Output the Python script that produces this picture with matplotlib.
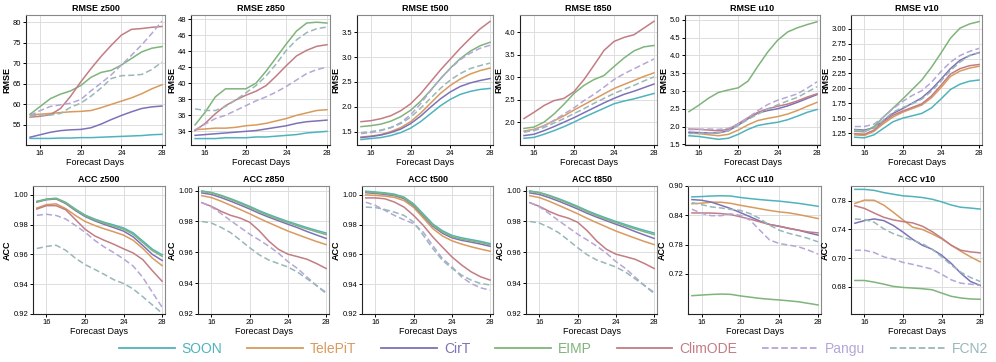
import numpy as np
import matplotlib
matplotlib.use("Agg")
import matplotlib.pyplot as plt
from matplotlib.lines import Line2D

days = np.arange(15, 29)

models = ["SOON", "TelePiT", "CirT", "EIMP", "ClimODE", "Pangu", "FCN2"]
colors = ["#4fb3bd", "#d99a5e", "#7d72b8", "#7fb47b", "#c27d84", "#b5a6d6", "#98b7b9"]
styles = ["-", "-", "-", "-", "-", "--", "--"]

# ---- RMSE ----
rmse_z500 = {
    "SOON": [51.7, 51.7, 51.7, 51.8, 51.8, 51.9, 51.9, 52.0, 52.1, 52.2, 52.3, 52.4, 52.6, 52.7],
    "TelePiT": [57.5, 57.6, 57.8, 58.0, 58.2, 58.3, 58.5, 59.2, 60.0, 60.8, 61.6, 62.6, 63.8, 64.8],
    "CirT": [52.0, 52.6, 53.2, 53.6, 53.8, 53.9, 54.3, 55.2, 56.3, 57.3, 58.2, 59.0, 59.4, 59.6],
    "EIMP": [57.6, 59.5, 61.4, 62.5, 63.3, 64.6, 66.6, 67.8, 68.3, 69.6, 71.2, 72.8, 73.7, 74.1],
    "ClimODE": [56.9, 57.1, 57.5, 59.0, 62.0, 65.5, 68.7, 71.7, 74.4, 76.9, 78.3, 78.5, 78.8, 79.0],
    "Pangu": [57.3, 58.5, 59.5, 59.9, 60.3, 61.2, 63.3, 65.2, 67.2, 69.6, 72.0, 74.5, 77.3, 80.3],
    "FCN2": [57.2, 57.3, 57.4, 57.8, 59.3, 60.3, 62.0, 64.0, 66.3, 67.0, 67.1, 67.3, 68.5, 70.3],
}
rmse_z850 = {
    "SOON": [33.1, 33.1, 33.1, 33.2, 33.2, 33.2, 33.3, 33.3, 33.4, 33.5, 33.6, 33.8, 33.9, 34.0],
    "TelePiT": [34.2, 34.3, 34.4, 34.4, 34.5, 34.7, 34.8, 35.0, 35.3, 35.6, 36.0, 36.3, 36.6, 36.7],
    "CirT": [33.5, 33.6, 33.7, 33.8, 33.9, 34.0, 34.1, 34.3, 34.5, 34.7, 35.0, 35.2, 35.3, 35.4],
    "EIMP": [34.8, 36.4, 38.3, 39.3, 39.3, 39.3, 40.0, 41.5, 43.2, 44.9, 46.5, 47.5, 47.6, 47.5],
    "ClimODE": [34.1, 35.0, 36.2, 37.2, 37.9, 38.5, 39.0, 39.7, 40.9, 42.2, 43.4, 44.1, 44.6, 44.8],
    "Pangu": [34.2, 34.9, 35.6, 36.0, 36.6, 37.2, 37.8, 38.3, 38.9, 39.6, 40.4, 41.2, 41.7, 42.0],
    "FCN2": [36.8, 36.6, 36.6, 37.1, 37.9, 38.8, 39.7, 40.9, 42.4, 44.1, 45.4, 46.3, 46.8, 47.0],
}
rmse_t500 = {
    "SOON": [1.34, 1.36, 1.38, 1.42, 1.48, 1.57, 1.70, 1.86, 2.02, 2.15, 2.25, 2.31, 2.35, 2.37],
    "TelePiT": [1.39, 1.41, 1.44, 1.50, 1.58, 1.70, 1.87, 2.07, 2.27, 2.43, 2.56, 2.66, 2.73, 2.78],
    "CirT": [1.38, 1.40, 1.43, 1.48, 1.55, 1.66, 1.81, 1.99, 2.16, 2.30, 2.41, 2.48, 2.53, 2.57],
    "EIMP": [1.60, 1.62, 1.65, 1.71, 1.80, 1.93, 2.11, 2.33, 2.56, 2.78, 2.97, 3.12, 3.23, 3.30],
    "ClimODE": [1.70, 1.72, 1.76, 1.82, 1.92, 2.06, 2.26, 2.50, 2.74, 2.96, 3.18, 3.38, 3.57, 3.72],
    "Pangu": [1.46, 1.48, 1.52, 1.58, 1.68, 1.84, 2.06, 2.32, 2.57, 2.77, 2.95, 3.08, 3.18, 3.24],
    "FCN2": [1.48, 1.50, 1.53, 1.58, 1.66, 1.79, 1.97, 2.17, 2.37, 2.54, 2.67, 2.77, 2.83, 2.88],
}
rmse_t850 = {
    "SOON": [1.64, 1.66, 1.73, 1.81, 1.90, 2.00, 2.11, 2.21, 2.31, 2.41, 2.47, 2.52, 2.58, 2.64],
    "TelePiT": [1.80, 1.84, 1.92, 2.03, 2.14, 2.27, 2.39, 2.51, 2.63, 2.75, 2.84, 2.93, 3.02, 3.10],
    "CirT": [1.70, 1.73, 1.81, 1.90, 2.00, 2.10, 2.21, 2.32, 2.43, 2.53, 2.62, 2.69, 2.77, 2.85],
    "EIMP": [1.86, 1.89, 2.00, 2.18, 2.40, 2.64, 2.82, 2.95, 3.04, 3.24, 3.43, 3.59, 3.68, 3.71],
    "ClimODE": [2.08, 2.22, 2.37, 2.48, 2.53, 2.68, 2.95, 3.27, 3.60, 3.80, 3.89, 3.95, 4.10, 4.25],
    "Pangu": [1.78, 1.83, 1.92, 2.04, 2.18, 2.32, 2.48, 2.62, 2.78, 2.95, 3.08, 3.19, 3.30, 3.41],
    "FCN2": [1.78, 1.81, 1.88, 1.98, 2.08, 2.19, 2.30, 2.42, 2.53, 2.64, 2.73, 2.82, 2.92, 3.01],
}
rmse_u10 = {
    "SOON": [1.74, 1.72, 1.68, 1.64, 1.67, 1.78, 1.92, 2.03, 2.08, 2.12, 2.19, 2.29, 2.40, 2.48],
    "TelePiT": [1.82, 1.80, 1.77, 1.74, 1.78, 1.90, 2.05, 2.17, 2.23, 2.28, 2.35, 2.45, 2.57, 2.68],
    "CirT": [1.84, 1.83, 1.82, 1.82, 1.88, 2.04, 2.22, 2.38, 2.45, 2.50, 2.58, 2.68, 2.79, 2.90],
    "EIMP": [2.42, 2.60, 2.80, 2.96, 3.03, 3.09, 3.28, 3.70, 4.10, 4.43, 4.66, 4.78, 4.87, 4.95],
    "ClimODE": [1.93, 1.92, 1.90, 1.88, 1.92, 2.08, 2.25, 2.40, 2.50, 2.57, 2.63, 2.72, 2.83, 2.92],
    "Pangu": [1.91, 1.92, 1.93, 1.92, 1.95, 2.07, 2.25, 2.45, 2.62, 2.74, 2.83, 2.92, 3.08, 3.26],
    "FCN2": [1.80, 1.81, 1.82, 1.83, 1.88, 2.03, 2.20, 2.35, 2.49, 2.61, 2.72, 2.82, 2.97, 3.12],
}
rmse_v10 = {
    "SOON": [1.18, 1.17, 1.22, 1.33, 1.44, 1.50, 1.54, 1.58, 1.67, 1.82, 1.98, 2.07, 2.12, 2.14],
    "TelePiT": [1.22, 1.21, 1.28, 1.41, 1.52, 1.60, 1.66, 1.72, 1.84, 2.01, 2.20, 2.29, 2.34, 2.37],
    "CirT": [1.31, 1.30, 1.34, 1.46, 1.58, 1.66, 1.75, 1.84, 1.98, 2.15, 2.33, 2.47, 2.55, 2.60],
    "EIMP": [1.28, 1.27, 1.36, 1.52, 1.67, 1.82, 1.98, 2.14, 2.35, 2.59, 2.84, 3.01, 3.08, 3.12],
    "ClimODE": [1.24, 1.23, 1.30, 1.44, 1.55, 1.62, 1.68, 1.74, 1.87, 2.05, 2.24, 2.33, 2.38, 2.40],
    "Pangu": [1.36, 1.36, 1.40, 1.52, 1.66, 1.78, 1.88, 1.96, 2.10, 2.28, 2.44, 2.55, 2.62, 2.67],
    "FCN2": [1.30, 1.28, 1.33, 1.47, 1.60, 1.68, 1.74, 1.82, 1.95, 2.12, 2.30, 2.44, 2.55, 2.60],
}

# ---- ACC ----
acc_z500 = {
    "SOON": [0.9957, 0.9972, 0.9978, 0.9950, 0.9905, 0.9865, 0.9838, 0.9816, 0.9798, 0.9778, 0.9745, 0.9690, 0.9635, 0.9598],
    "TelePiT": [0.9912, 0.9935, 0.9940, 0.9908, 0.9862, 0.9822, 0.9795, 0.9772, 0.9752, 0.9730, 0.9695, 0.9640, 0.9575, 0.9525],
    "CirT": [0.9952, 0.9968, 0.9973, 0.9942, 0.9895, 0.9855, 0.9826, 0.9802, 0.9780, 0.9757, 0.9718, 0.9660, 0.9600, 0.9560],
    "EIMP": [0.9955, 0.9970, 0.9975, 0.9946, 0.9900, 0.9860, 0.9832, 0.9810, 0.9790, 0.9770, 0.9735, 0.9680, 0.9625, 0.9588],
    "ClimODE": [0.9905, 0.9928, 0.9928, 0.9900, 0.9835, 0.9770, 0.9725, 0.9695, 0.9668, 0.9638, 0.9610, 0.9565, 0.9490, 0.9420],
    "Pangu": [0.9863, 0.9870, 0.9862, 0.9838, 0.9795, 0.9750, 0.9695, 0.9650, 0.9612, 0.9570, 0.9522, 0.9445, 0.9345, 0.9245],
    "FCN2": [0.9640, 0.9654, 0.9662, 0.9628, 0.9575, 0.9532, 0.9500, 0.9466, 0.9430, 0.9405, 0.9368, 0.9316, 0.9260, 0.9205],
}
acc_z850 = {
    "SOON": [0.9998, 0.9988, 0.9970, 0.9948, 0.9924, 0.9898, 0.9870, 0.9845, 0.9822, 0.9800, 0.9780, 0.9760, 0.9742, 0.9725],
    "TelePiT": [0.9967, 0.9955, 0.9932, 0.9905, 0.9878, 0.9850, 0.9820, 0.9792, 0.9765, 0.9738, 0.9715, 0.9692, 0.9670, 0.9650],
    "CirT": [0.9985, 0.9975, 0.9955, 0.9932, 0.9907, 0.9881, 0.9853, 0.9828, 0.9805, 0.9782, 0.9760, 0.9735, 0.9712, 0.9690],
    "EIMP": [0.9995, 0.9985, 0.9966, 0.9943, 0.9918, 0.9892, 0.9864, 0.9838, 0.9815, 0.9793, 0.9772, 0.9752, 0.9733, 0.9715],
    "ClimODE": [0.9922, 0.9898, 0.9866, 0.9840, 0.9822, 0.9795, 0.9740, 0.9673, 0.9620, 0.9588, 0.9572, 0.9555, 0.9527, 0.9495],
    "Pangu": [0.9922, 0.9895, 0.9852, 0.9806, 0.9762, 0.9718, 0.9680, 0.9640, 0.9595, 0.9540, 0.9495, 0.9440, 0.9384, 0.9340],
    "FCN2": [0.9800, 0.9790, 0.9762, 0.9728, 0.9680, 0.9630, 0.9584, 0.9550, 0.9527, 0.9505, 0.9472, 0.9428, 0.9384, 0.9333],
}
acc_t500 = {
    "SOON": [1.0025, 1.0020, 1.0014, 1.0005, 0.9985, 0.9940, 0.9873, 0.9805, 0.9760, 0.9728, 0.9712, 0.9700, 0.9688, 0.9673],
    "TelePiT": [1.0000, 0.9997, 0.9992, 0.9983, 0.9962, 0.9916, 0.9846, 0.9774, 0.9725, 0.9692, 0.9670, 0.9652, 0.9636, 0.9622],
    "CirT": [1.0015, 1.0010, 1.0004, 0.9995, 0.9975, 0.9928, 0.9860, 0.9790, 0.9743, 0.9712, 0.9695, 0.9683, 0.9670, 0.9655],
    "EIMP": [1.0020, 1.0015, 1.0009, 1.0000, 0.9980, 0.9933, 0.9865, 0.9797, 0.9752, 0.9720, 0.9703, 0.9692, 0.9680, 0.9665],
    "ClimODE": [0.9980, 0.9980, 0.9974, 0.9952, 0.9918, 0.9862, 0.9796, 0.9718, 0.9650, 0.9584, 0.9530, 0.9484, 0.9450, 0.9428],
    "Pangu": [0.9951, 0.9930, 0.9896, 0.9862, 0.9833, 0.9807, 0.9750, 0.9660, 0.9573, 0.9518, 0.9450, 0.9405, 0.9376, 0.9360],
    "FCN2": [0.9918, 0.9915, 0.9902, 0.9884, 0.9862, 0.9818, 0.9729, 0.9640, 0.9562, 0.9507, 0.9462, 0.9428, 0.9405, 0.9395],
}
acc_t850 = {
    "SOON": [0.9998, 0.9988, 0.9970, 0.9948, 0.9924, 0.9898, 0.9870, 0.9845, 0.9822, 0.9800, 0.9780, 0.9760, 0.9742, 0.9725],
    "TelePiT": [0.9967, 0.9955, 0.9932, 0.9905, 0.9878, 0.9850, 0.9820, 0.9792, 0.9765, 0.9738, 0.9715, 0.9692, 0.9670, 0.9650],
    "CirT": [0.9985, 0.9975, 0.9955, 0.9932, 0.9907, 0.9881, 0.9853, 0.9828, 0.9805, 0.9782, 0.9760, 0.9735, 0.9712, 0.9690],
    "EIMP": [0.9995, 0.9985, 0.9966, 0.9943, 0.9918, 0.9892, 0.9864, 0.9838, 0.9815, 0.9793, 0.9772, 0.9752, 0.9733, 0.9715],
    "ClimODE": [0.9922, 0.9898, 0.9866, 0.9840, 0.9822, 0.9795, 0.9740, 0.9673, 0.9620, 0.9588, 0.9572, 0.9555, 0.9527, 0.9495],
    "Pangu": [0.9922, 0.9895, 0.9852, 0.9806, 0.9762, 0.9718, 0.9680, 0.9640, 0.9595, 0.9540, 0.9495, 0.9440, 0.9384, 0.9340],
    "FCN2": [0.9800, 0.9790, 0.9762, 0.9728, 0.9680, 0.9630, 0.9584, 0.9550, 0.9527, 0.9505, 0.9472, 0.9428, 0.9384, 0.9333],
}
acc_u10 = {
    "SOON": [0.8778, 0.8784, 0.8795, 0.8800, 0.8795, 0.8765, 0.8742, 0.8722, 0.8705, 0.8690, 0.8668, 0.8645, 0.8615, 0.8585],
    "TelePiT": [0.8637, 0.8648, 0.8668, 0.8668, 0.8645, 0.8605, 0.8570, 0.8535, 0.8500, 0.8470, 0.8450, 0.8415, 0.8375, 0.8333],
    "CirT": [0.8722, 0.8708, 0.8670, 0.8605, 0.8537, 0.8455, 0.8370, 0.8282, 0.8212, 0.8176, 0.8130, 0.8095, 0.8042, 0.7994],
    "EIMP": [0.6755, 0.6768, 0.6780, 0.6788, 0.6782, 0.6750, 0.6725, 0.6700, 0.6682, 0.6667, 0.6650, 0.6630, 0.6598, 0.6565],
    "ClimODE": [0.8448, 0.8448, 0.8446, 0.8436, 0.8415, 0.8370, 0.8321, 0.8266, 0.8212, 0.8176, 0.8135, 0.8095, 0.8060, 0.8040],
    "Pangu": [0.8525, 0.8440, 0.8392, 0.8392, 0.8430, 0.8400, 0.8300, 0.8095, 0.7895, 0.7823, 0.7790, 0.7755, 0.7687, 0.7606],
    "FCN2": [0.8660, 0.8618, 0.8572, 0.8550, 0.8520, 0.8500, 0.8435, 0.8333, 0.8198, 0.8095, 0.8030, 0.7980, 0.7926, 0.7857],
}
acc_v10 = {
    "SOON": [0.7960, 0.7960, 0.7946, 0.7915, 0.7892, 0.7870, 0.7860, 0.7846, 0.7823, 0.7786, 0.7742, 0.7710, 0.7699, 0.7685],
    "TelePiT": [0.7763, 0.7810, 0.7808, 0.7740, 0.7640, 0.7533, 0.7432, 0.7400, 0.7340, 0.7271, 0.7180, 0.7096, 0.7018, 0.6949],
    "CirT": [0.7487, 0.7524, 0.7547, 0.7524, 0.7455, 0.7363, 0.7262, 0.7180, 0.7125, 0.7042, 0.6927, 0.6789, 0.6674, 0.6619],
    "EIMP": [0.6688, 0.6688, 0.6665, 0.6637, 0.6605, 0.6591, 0.6582, 0.6573, 0.6559, 0.6513, 0.6467, 0.6444, 0.6430, 0.6425],
    "ClimODE": [0.7731, 0.7694, 0.7630, 0.7570, 0.7533, 0.7510, 0.7492, 0.7446, 0.7372, 0.7280, 0.7180, 0.7110, 0.7087, 0.7074],
    "Pangu": [0.7110, 0.7110, 0.7078, 0.7018, 0.6986, 0.6940, 0.6913, 0.6880, 0.6848, 0.6775, 0.6697, 0.6650, 0.6637, 0.6619],
    "FCN2": [0.7547, 0.7538, 0.7501, 0.7409, 0.7340, 0.7294, 0.7248, 0.7202, 0.7125, 0.7019, 0.6904, 0.6803, 0.6730, 0.6674],
}

# (title, data, ylim, yticks, yticklabels)
panels = [
    ("RMSE z500", rmse_z500, (50.1, 81.8), [55, 60, 65, 70, 75, 80], None),
    ("RMSE z850", rmse_z850, (32.3, 48.5), [34, 36, 38, 40, 42, 44, 46, 48], None),
    ("RMSE t500", rmse_t500, (1.23, 3.85), [1.5, 2.0, 2.5, 3.0, 3.5], None),
    ("RMSE t850", rmse_t850, (1.49, 4.39), [2.0, 2.5, 3.0, 3.5, 4.0], None),
    ("RMSE u10", rmse_u10, (1.48, 5.14), [1.5, 2.0, 2.5, 3.0, 3.5, 4.0, 4.5, 5.0], None),
    ("RMSE v10", rmse_v10, (1.05, 3.23), [1.25, 1.5, 1.75, 2.0, 2.25, 2.5, 2.75, 3.0], None),
    ("ACC z500", acc_z500, (0.92, 1.006), [0.92, 0.94, 0.96, 0.98, 1.00], None),
    ("ACC z850", acc_z850, (0.92, 1.003), [0.92, 0.94, 0.96, 0.98, 1.00], None),
    ("ACC t500", acc_t500, (0.92, 1.006), [0.92, 0.94, 0.96, 0.98, 1.00], None),
    ("ACC t850", acc_t850, (0.92, 1.003), [0.92, 0.94, 0.96, 0.98, 1.00], None),
    ("ACC u10", acc_u10, (0.638, 0.90), [0.72, 0.78, 0.84, 0.90], None),
    ("ACC v10", acc_v10, (0.622, 0.8007), [0.66, 0.70, 0.74, 0.78], ["0.68", "0.70", "0.74", "0.78"]),
]

# axes boxes in pixels (left, right) per row; rows (top, bottom)
cols_top = [(26, 165), (191, 330), (357, 493), (520, 657), (685, 820), (851, 982)]
cols_bot = [(33, 165), (198, 329), (362, 493), (526, 657), (688, 821), (851, 983)]
rows = [(15, 145), (186, 314)]

plt.rcParams["font.family"] = ["Liberation Sans", "DejaVu Sans"]

W, H = 996, 362
fig = plt.figure(figsize=(9.96, 3.62), dpi=100)

axes = []
for r, cols in enumerate([cols_top, cols_bot]):
    top, bot = rows[r]
    for x0, x1 in cols:
        axes.append(fig.add_axes([x0 / W, 1 - bot / H, (x1 - x0) / W, (bot - top) / H]))

for ax, (title, data, ylim, yticks, ylabels) in zip(axes, panels):
    for name, c, ls in zip(models, colors, styles):
        ax.plot(days, data[name], color=c, ls=ls, lw=1.1,
                dashes=(4, 2) if ls == "--" else (None, None))
    ax.set_xlim(14.6, 28.3)
    ax.set_ylim(*ylim)
    ax.set_xticks([16, 20, 24, 28])
    ax.set_yticks(yticks)
    if ylabels is not None:
        ax.set_yticklabels(ylabels)
    elif title.startswith("ACC"):
        ax.yaxis.set_major_formatter(plt.FormatStrFormatter("%.2f"))
    ax.grid(True, color="#dddddd", lw=0.7)
    ax.set_axisbelow(True)
    ax.set_title(title, fontsize=6.5, fontweight="bold", pad=3)
    ax.set_xlabel("Forecast Days", fontsize=6.5, labelpad=1)
    ax.set_ylabel(title.split()[0], fontsize=6.5, fontweight="bold", labelpad=1)
    ax.tick_params(labelsize=5.5, length=2, width=0.7, pad=1.5)
    for side in ["left", "bottom"]:
        ax.spines[side].set_color("#222222")
    for side in ["top", "right"]:
        ax.spines[side].set_color("#888888")

handles = [Line2D([0], [0], color=c, ls=ls, lw=1.3) for c, ls in zip(colors, styles)]
leg = fig.legend(handles, models, loc="center", ncol=7, frameon=False,
                 bbox_to_anchor=(0.556, 0.035), fontsize=10, handlelength=4,
                 columnspacing=1.8, handletextpad=0.5)
for txt, c in zip(leg.get_texts(), colors):
    txt.set_color(c)

fig.savefig("out.png", dpi=100)
